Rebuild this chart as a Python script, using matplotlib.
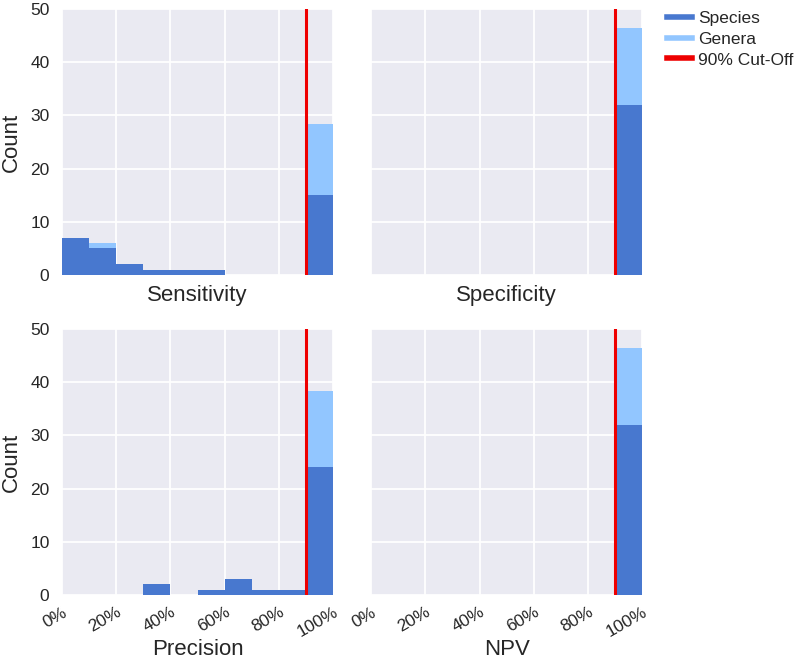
import matplotlib
matplotlib.use("Agg")
import matplotlib.pyplot as plt
from matplotlib.lines import Line2D

# histogram bins (left edges, width 10%)
bin_left = [0.0, 0.1, 0.2, 0.3, 0.4, 0.5, 0.6, 0.7, 0.8, 0.9]
bin_width = 0.1
cutoff = 0.9

metrics = ["Sensitivity", "Specificity", "Precision", "NPV"]

sens_species = [7, 5, 2, 1, 1, 1, 0, 0, 0, 15]
sens_genera = [7, 6, 2, 1, 1, 1, 0, 0, 0, 28.4]
spec_species = [0, 0, 0, 0, 0, 0, 0, 0, 0, 32]
spec_genera = [0, 0, 0, 0, 0, 0, 0, 0, 0, 46.5]
prec_species = [0, 0, 0, 2, 0, 1, 3, 1, 1, 24]
prec_genera = [0, 0, 0, 2, 0, 1, 3, 1, 1, 38.4]
npv_species = [0, 0, 0, 0, 0, 0, 0, 0, 0, 32]
npv_genera = [0, 0, 0, 0, 0, 0, 0, 0, 0, 46.5]

species_counts = [sens_species, spec_species, prec_species, npv_species]
genera_counts = [sens_genera, spec_genera, prec_genera, npv_genera]

xticks = [0.0, 0.2, 0.4, 0.6, 0.8, 1.0]
xtick_labels = ["0%", "20%", "40%", "60%", "80%", "100%"]
yticks = [0, 10, 20, 30, 40, 50]

species_color = "#4878CF"
genera_color = "#92C6FF"
cut_color = "#EE0000"
bg = "#EAEAF2"
text_color = "#262626"

plt.rcParams["font.family"] = ["Liberation Sans", "DejaVu Sans"]
plt.rcParams["text.color"] = text_color
plt.rcParams["axes.labelcolor"] = text_color
plt.rcParams["xtick.color"] = text_color
plt.rcParams["ytick.color"] = text_color

fig = plt.figure(figsize=(8, 6.62), dpi=100)

# axes placement in figure fractions: [left, bottom, width, height]
positions = [
    [0.0775, 0.5846, 0.339, 0.4018],
    [0.4638, 0.5846, 0.339, 0.4018],
    [0.0775, 0.1012, 0.339, 0.4018],
    [0.4638, 0.1012, 0.339, 0.4018],
]

for i, name in enumerate(metrics):
    ax = fig.add_axes(positions[i])
    ax.set_facecolor(bg)
    for s in ax.spines.values():
        s.set_visible(False)
    ax.set_axisbelow(True)
    ax.grid(True, color="white", lw=1.3)

    ax.bar(bin_left, genera_counts[i], width=bin_width, align="edge",
           color=genera_color, lw=0)
    ax.bar(bin_left, species_counts[i], width=bin_width, align="edge",
           color=species_color, lw=0)
    ax.axvline(cutoff, color=cut_color, lw=2.2)

    ax.set_xlim(0, 1.0)
    ax.set_ylim(0, 50)
    ax.set_xticks(xticks)
    ax.set_yticks(yticks)
    ax.tick_params(length=0, labelsize=12.5)
    ax.tick_params(axis="y", pad=9)
    ax.tick_params(axis="x", pad=7)

    if i >= 2:
        ax.set_xticklabels(xtick_labels, rotation=30, ha="right",
                           rotation_mode="anchor")
        ax.set_xlabel(name, fontsize=16)
        ax.xaxis.set_label_coords(0.5, -0.166)
    else:
        ax.set_xticklabels([])
        ax.set_xlabel(name, fontsize=16)
        ax.xaxis.set_label_coords(0.5, -0.036)

    if i % 2 == 0:
        ax.set_ylabel("Count", fontsize=16)
        ax.yaxis.set_label_coords(-0.147, 0.5)
    else:
        ax.set_yticklabels([])

handles = [
    Line2D([], [], color=species_color, lw=4),
    Line2D([], [], color=genera_color, lw=4),
    Line2D([], [], color=cut_color, lw=4),
]
fig.legend(handles, ["Species", "Genera", "90% Cut-Off"],
           loc="upper left", bbox_to_anchor=(0.834, 0.984),
           frameon=False, fontsize=12.5, handlelength=1.45,
           handletextpad=0.35, labelspacing=0.33,
           borderpad=0, borderaxespad=0)

fig.savefig("out.png", dpi=100)
